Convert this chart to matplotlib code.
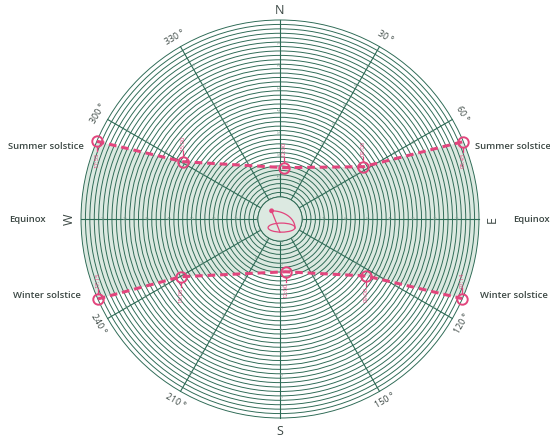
import numpy as np
import matplotlib.pyplot as plt
from matplotlib.patches import Circle, Ellipse, Polygon

plt.rcParams['font.family'] = ['Open Sans', 'DejaVu Sans']

# sun positions (azimuth deg, altitude deg), listed west -> east
summer_az = [293.0, 300.5, 4.5, 57.9, 67.1]
summer_alt = [0.0, 38.9, 66.7, 45.5, 0.0]
summer_time = ["17:55", "15:00", "12:00", "09:00", "05:45"]

winter_az = [246.3, 239.8, 173.8, 123.5, 113.6]
winter_alt = [0.0, 38.1, 66.0, 43.3, 0.0]
winter_time = ["17:15", "15:00", "12:00", "09:00", "07:14"]

# grid of the diagram
ring_alts = np.arange(0, 82, 2)
spoke_az = np.arange(0, 360, 30)
spoke_label_alts = np.arange(10, 90, 10)
degree_labels = [30, 60, 120, 150, 210, 240, 300, 330]

GRID = "#2d6a55"
PINK = "#e2457d"
BAND = "#dce9e1"
TEXT = "#3b4743"


def to_xy(az, alt):
    r = 90.0 - np.asarray(alt, dtype=float)
    t = np.radians(az)
    return r * np.sin(t), r * np.cos(t)


fig = plt.figure(figsize=(5.5, 4.4), dpi=100)
ax = fig.add_axes([0, 0, 1, 1])
k = 90 / 199
ax.set_xlim(-280 * k, 270 * k)
ax.set_ylim(-221 * k, 219 * k)
ax.axis('off')

# shaded band between the two solstice paths
sx, sy = to_xy(summer_az, summer_alt)
wx, wy = to_xy(winter_az, winter_alt)
arc_e = np.linspace(summer_az[-1], winter_az[-1], 30)
arc_w = np.linspace(winter_az[0], summer_az[0], 30)
ex, ey = to_xy(arc_e, np.zeros_like(arc_e))
qx, qy = to_xy(arc_w, np.zeros_like(arc_w))
band_x = np.concatenate([sx, ex, wx[::-1], qx])
band_y = np.concatenate([sy, ey, wy[::-1], qy])
ax.add_patch(Polygon(np.column_stack([band_x, band_y]), closed=True,
                     facecolor=BAND, edgecolor='none', zorder=0))

# altitude rings and azimuth spokes
for a in ring_alts:
    ax.add_patch(Circle((0, 0), 90 - a, fill=False, edgecolor=GRID,
                        lw=0.68, zorder=1))
for az in spoke_az:
    x, y = to_xy([az, az], [80, 0])
    ax.plot(x, y, color=GRID, lw=0.8, zorder=1)
    for a in spoke_label_alts:
        lx, ly = to_xy(az, a)
        rot = 90 - az
        if np.cos(np.radians(rot)) < 0:
            rot += 180
        ax.text(lx, ly, str(a), fontsize=2.8, color="#7f9a8f",
                rotation=rot, ha='center', va='center', zorder=2,
                rotation_mode='anchor')

# zenith disc with a small sun-path icon
ax.add_patch(Circle((0, 0), 10, facecolor=BAND, edgecolor=GRID,
                    lw=0.68, zorder=3))
ax.add_patch(Ellipse((0.7, -3.9), 12.2, 4.1, fill=False, edgecolor=PINK,
                     lw=0.9, zorder=4))
tt = np.linspace(0, np.pi / 2, 40)
ax.plot(-3.8 + 10.6 * np.sin(tt), -4.1 + 7.8 * np.cos(tt),
        color=PINK, lw=0.9, zorder=4)
ax.plot([-3.8, 0.0], [3.7, -6.0], color=PINK, lw=0.9, zorder=4)
ax.add_patch(Circle((-3.8, 3.7), 1.1, facecolor=PINK, edgecolor='none',
                    zorder=5))

# solstice paths with hour markers
for xs, ys, times, sides in [
        (sx, sy, summer_time, [-1, 1, 1, 1, -1]),
        (wx, wy, winter_time, [1, -1, -1, -1, 1])]:
    ax.plot(xs, ys, color=PINK, lw=2.2, dashes=(2.5, 1.6), zorder=6)
    ax.plot(xs, ys, 'o', ms=7.5, mfc='none', mec=PINK, mew=1.4, zorder=7)
    for x, y, t, s in zip(xs, ys, times, sides):
        ax.plot([x, x], [y + s * 2.3, y + s * 4.6], color=PINK, lw=0.9,
                zorder=7)
        ax.text(x, y + s * 4.9, t, fontsize=4.3, color=PINK, rotation=90,
                ha='center', va='bottom' if s > 0 else 'top', zorder=7)

# compass letters and degree marks
ax.text(0, 94.5, "N", fontsize=9, color=TEXT, ha='center', va='center')
ax.text(0, -96, "S", fontsize=9, color=TEXT, ha='center', va='center')
ax.text(96, 0, "E", fontsize=9, color=TEXT, ha='center', va='center',
        rotation=90)
ax.text(-95.5, 0, "W", fontsize=9, color=TEXT, ha='center', va='center',
        rotation=90)
for d in degree_labels:
    x, y = to_xy(d, -5.0)
    rot = -d if d < 90 or d > 270 else 180 - d
    ax.text(x, y, f"{d} °", fontsize=6.4, color=TEXT, rotation=rot,
            ha='center', va='center')

# row captions on both sides
captions = [("Summer solstice", 32.7, -105.7, 105.4),
            ("Equinox", 0.0, -114.0, 113.8),
            ("Winter solstice", -34.5, -105.3, 106.0)]
for label, yy, xl, xr in captions:
    for xx in (xl, xr):
        ax.text(xx, yy, label, fontsize=6.8, color=TEXT, ha='center',
                va='center', fontweight='semibold')

fig.savefig("out.png", dpi=100, facecolor='white')
